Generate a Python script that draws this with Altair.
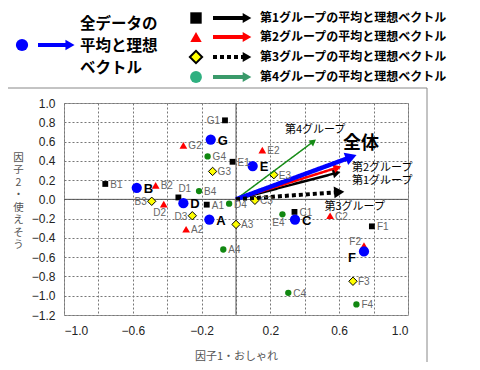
import math
import altair as alt
import pandas as pd

W, H = 344, 212
X_DOM = [-1.0, 1.0]
Y_DOM = [-1.2, 1.0]
JP = "Noto Sans CJK JP"
NUM = "Liberation Sans"

# ---- data ----
g1_labels = ["A1", "B1", "C1", "D1", "E1", "F1", "G1"]
g1_x = [-0.17, -0.76, 0.34, -0.335, -0.02, 0.79, -0.064]
g1_y = [-0.055, 0.16, -0.13, 0.02, 0.39, -0.28, 0.82]

g2_labels = ["A2", "B2", "C2", "D2", "E2", "F2", "G2"]
g2_x = [-0.29, -0.467, 0.547, -0.42, 0.153, 0.744, -0.306]
g2_y = [-0.31, 0.145, -0.17, -0.05, 0.51, -0.48, 0.56]

g3_labels = ["A3", "B3", "C3", "D3", "E3", "F3", "G3"]
g3_x = [0.0, -0.49, 0.11, -0.254, 0.22, 0.68, -0.136]
g3_y = [-0.26, -0.02, -0.01, -0.17, 0.256, -0.85, 0.29]

g4_labels = ["A4", "B4", "C4", "D4", "E4", "F4", "G4"]
g4_x = [-0.074, -0.215, 0.304, -0.04, 0.27, 0.70, -0.165]
g4_y = [-0.52, 0.086, -0.97, -0.045, -0.155, -1.09, 0.446]

all_labels = ["A", "B", "C", "D", "E", "F", "G"]
all_x = [-0.155, -0.577, 0.343, -0.306, 0.097, 0.744, -0.147]
all_y = [-0.21, 0.12, -0.21, -0.04, 0.345, -0.54, 0.62]

arrow_names = ["第4グループ", "第1グループ", "第2グループ", "全体", "第3グループ"]
arrow_x = [0.45, 0.585, 0.59, 0.67, 0.60]
arrow_y = [0.60, 0.275, 0.33, 0.44, 0.076]

arrow_label_x = [0.46, 0.85, 0.85, 0.727, 0.69]
arrow_label_y = [0.72, 0.19, 0.33, 0.57, -0.075]

legend_items = ["第1グループの平均と理想ベクトル", "第2グループの平均と理想ベクトル",
                "第3グループの平均と理想ベクトル", "第4グループの平均と理想ベクトル"]
legend_all = ["全データの", "平均と理想", "ベクトル"]

x_ticks = [-1.0, -0.8, -0.6, -0.4, -0.2, 0.0, 0.2, 0.4, 0.6, 0.8, 1.0]
y_ticks = [1.0, 0.8, 0.6, 0.4, 0.2, 0.0, -0.2, -0.4, -0.6, -0.8, -1.0, -1.2]

# ---- styling ----
group_style = {
    "g1": dict(shape="square", fill="#000000", stroke="#000000", size=34),
    "g2": dict(shape="triangle-up", fill="#ff0000", stroke="#ff0000", size=60),
    "g3": dict(shape="diamond", fill="#ffff00", stroke="#000000", size=70),
    "g4": dict(shape="circle", fill="#118811", stroke="#118811", size=40),
    "all": dict(shape="circle", fill="#0000ff", stroke="#0000ff", size=105),
}
arrow_style = {
    "第4グループ": dict(color="#168c16", width=1.5, dash=[1, 0], head=55),
    "第1グループ": dict(color="#000000", width=2.5, dash=[1, 0], head=80),
    "第2グループ": dict(color="#ff0000", width=2.5, dash=[1, 0], head=80),
    "全体": dict(color="#0000ff", width=4.5, dash=[1, 0], head=170),
    "第3グループ": dict(color="#000000", width=4, dash=[4, 3], head=140),
}
label_side = {"G1": "l", "D1": "ar", "D2": "bl", "F2": "al", "B3": "l", "D3": "l",
              "E4": "bl", "F": "blb"}
side_fmt = {
    "r": dict(align="left", dx=5, dy=1),
    "l": dict(align="right", dx=-5, dy=1),
    "ar": dict(align="left", dx=0, dy=-8),
    "bl": dict(align="center", dx=-4, dy=9),
    "al": dict(align="right", dx=-3, dy=-4),
    "blb": dict(align="center", dx=-12, dy=7),
}

xs = alt.Scale(domain=X_DOM, nice=False, zero=False)
ys = alt.Scale(domain=Y_DOM, nice=False, zero=False)

x_axis = alt.Axis(
    values=x_ticks, format=".1f", title="因子1・おしゃれ", grid=True,
    ticks=False, domain=False, labelPadding=10, titleY=41,
    titleBaseline="middle", titleFont=JP, titleFontSize=11,
    titleFontWeight="normal", titleColor="#555")
y_axis = alt.Axis(
    values=y_ticks, format=".1f",
    title=["因", "子", "2", "・", "使", "え", "そ", "う"], grid=True,
    ticks=False, domain=False, labelPadding=9, titleAngle=0,
    titleX=-46, titleY=54, titleAlign="center", titleBaseline="middle",
    titleLineHeight=12.5, titleFont=JP, titleFontSize=10.5,
    titleFontWeight="normal", titleColor="#555")


def X(field="x"):
    return alt.X(f"{field}:Q", scale=xs, axis=x_axis)


def Y(field="y"):
    return alt.Y(f"{field}:Q", scale=ys, axis=y_axis)


groups = {
    "g1": (g1_labels, g1_x, g1_y),
    "g2": (g2_labels, g2_x, g2_y),
    "g3": (g3_labels, g3_x, g3_y),
    "g4": (g4_labels, g4_x, g4_y),
    "all": (all_labels, all_x, all_y),
}

layers = []

# base carrying both axes
axis_df = pd.DataFrame({"x": [0.0], "y": [0.0]})
layers.append(alt.Chart(axis_df).mark_point(opacity=0).encode(x=X(), y=Y()))

# zero lines
zero_df = pd.DataFrame({"x": [0.0], "y": [0.0]})
layers.append(alt.Chart(zero_df).mark_rule(color="#555", strokeWidth=1).encode(x=X()))
layers.append(alt.Chart(zero_df).mark_rule(color="#555", strokeWidth=1).encode(y=Y()))

# points (scatter)
for key in ["g1", "g2", "g3", "g4", "all"]:
    labs, gx, gy = groups[key]
    st = group_style[key]
    df = pd.DataFrame({"label": labs, "x": gx, "y": gy})
    layers.append(alt.Chart(df).mark_point(
        shape=st["shape"], filled=True, fill=st["fill"], stroke=st["stroke"],
        strokeWidth=1 if key == "g3" else 0, size=st["size"], opacity=1
    ).encode(x=X(), y=Y()))

# arrows
ux = W / (X_DOM[1] - X_DOM[0])
uy = H / (Y_DOM[1] - Y_DOM[0])
for name, ax_, ay_ in zip(arrow_names, arrow_x, arrow_y):
    st = arrow_style[name]
    line_df = pd.DataFrame({"x": [0.0, ax_], "y": [0.0, ay_], "o": [0, 1]})
    layers.append(alt.Chart(line_df).mark_line(
        color=st["color"], strokeWidth=st["width"], strokeDash=st["dash"]
    ).encode(x=X(), y=Y(), order="o:O"))
    ang = math.degrees(math.atan2(ax_ * ux, ay_ * uy))
    head_df = pd.DataFrame({"x": [ax_], "y": [ay_], "a": [ang]})
    layers.append(alt.Chart(head_df).mark_point(
        shape="triangle-up", filled=True, color=st["color"], size=st["head"], opacity=1
    ).encode(x=X(), y=Y(), angle=alt.Angle("a:Q", scale=None)))

# point labels
for key in ["g1", "g2", "g3", "g4", "all"]:
    labs, gx, gy = groups[key]
    df = pd.DataFrame({"label": labs, "x": gx, "y": gy})
    df["side"] = [label_side.get(l, "r") for l in labs]
    for side, f in side_fmt.items():
        sub = df[df["side"] == side]
        if sub.empty:
            continue
        if key == "all":
            props = dict(font=NUM, fontSize=13, fontWeight="bold", color="#000",
                         align=f["align"], baseline="middle",
                         dx=f["dx"] + (2 if side == "r" else 0), dy=f["dy"])
        else:
            props = dict(font=NUM, fontSize=10, color="#666",
                         align=f["align"], baseline="middle", dx=f["dx"], dy=f["dy"])
        layers.append(alt.Chart(sub).mark_text(**props)
                      .encode(x=X(), y=Y(), text="label:N"))

# arrow labels
al_df = pd.DataFrame({"name": arrow_names, "x": arrow_label_x, "y": arrow_label_y})
layers.append(alt.Chart(al_df[al_df["name"] != "全体"]).mark_text(
    font=JP, fontSize=11, color="#000", align="center", baseline="middle"
).encode(x=X(), y=Y(), text="name:N"))
layers.append(alt.Chart(al_df[al_df["name"] == "全体"]).mark_text(
    font=JP, fontSize=18, fontWeight="bold", color="#000", align="center", baseline="middle"
).encode(x=X(), y=Y(), text="name:N"))

# ---- custom legend (pixel positions relative to plot origin) ----
one = pd.DataFrame({"a": [0]})
# outer frame
layers.append(alt.Chart(one).mark_rect(fill=None, stroke="#888", strokeWidth=1).encode(
    x=alt.value(-59), x2=alt.value(363), y=alt.value(-15), y2=alt.value(263)))

# all-data legend
layers.append(alt.Chart(one).mark_point(shape="circle", filled=True, color="#0000ff",
                                        size=150, opacity=1).encode(
    x=alt.value(-42), y=alt.value(-58)))
layers.append(alt.Chart(one).mark_rule(color="#0000ff", strokeWidth=4).encode(
    x=alt.value(-26), x2=alt.value(4), y=alt.value(-58)))
layers.append(alt.Chart(one).mark_point(shape="triangle-right", filled=True, color="#0000ff",
                                        size=110, opacity=1).encode(
    x=alt.value(6), y=alt.value(-58)))
layers.append(alt.Chart(one).mark_text(
    text=legend_all, font=JP, fontSize=15.5, fontWeight="bold", color="#000",
    align="left", baseline="middle", lineHeight=22).encode(
    x=alt.value(16), y=alt.value(-79)))

leg_y = [-85, -66, -46, -26]
leg_marker = [
    dict(shape="square", fill="#000", stroke="#000", size=130, sw=0),
    dict(shape="triangle-up", fill="#ff0000", stroke="#ff0000", size=130, sw=0),
    dict(shape="diamond", fill="#ffff00", stroke="#000", size=150, sw=2),
    dict(shape="circle", fill="#2fb080", stroke="#2fb080", size=140, sw=0),
]
leg_line = [("#000", [1, 0]), ("#ff0000", [1, 0]), ("#000", [4, 3]), ("#3a9a6a", [1, 0])]
for i, txt in enumerate(legend_items):
    m = leg_marker[i]
    col, dash = leg_line[i]
    layers.append(alt.Chart(one).mark_point(
        shape=m["shape"], filled=True, fill=m["fill"], stroke=m["stroke"],
        strokeWidth=m["sw"], size=m["size"], opacity=1).encode(
        x=alt.value(132), y=alt.value(leg_y[i])))
    layers.append(alt.Chart(one).mark_rule(color=col, strokeWidth=4, strokeDash=dash).encode(
        x=alt.value(149), x2=alt.value(180), y=alt.value(leg_y[i])))
    layers.append(alt.Chart(one).mark_point(
        shape="triangle-right", filled=True, color=("#000" if i == 2 else col),
        size=100, opacity=1).encode(x=alt.value(183), y=alt.value(leg_y[i])))
    layers.append(alt.Chart(one).mark_text(
        text=txt, font=JP, fontSize=12, fontWeight="bold", color="#000",
        align="left", baseline="middle").encode(
        x=alt.value(196), y=alt.value(leg_y[i])))

chart = alt.layer(*layers).properties(
    width=W, height=H,
    autosize=alt.AutoSizeParams(type="none"),
    padding={"left": 56, "top": 95, "right": 64, "bottom": 47},
    background="white",
).configure_view(stroke="#999", strokeWidth=1).configure_axis(
    labelFont=NUM, labelFontSize=12, labelColor="#222",
    gridColor="#777", gridDash=[2, 2], gridWidth=1,
)

chart.save("out.html", embed_options={"renderer": "svg", "actions": False})
